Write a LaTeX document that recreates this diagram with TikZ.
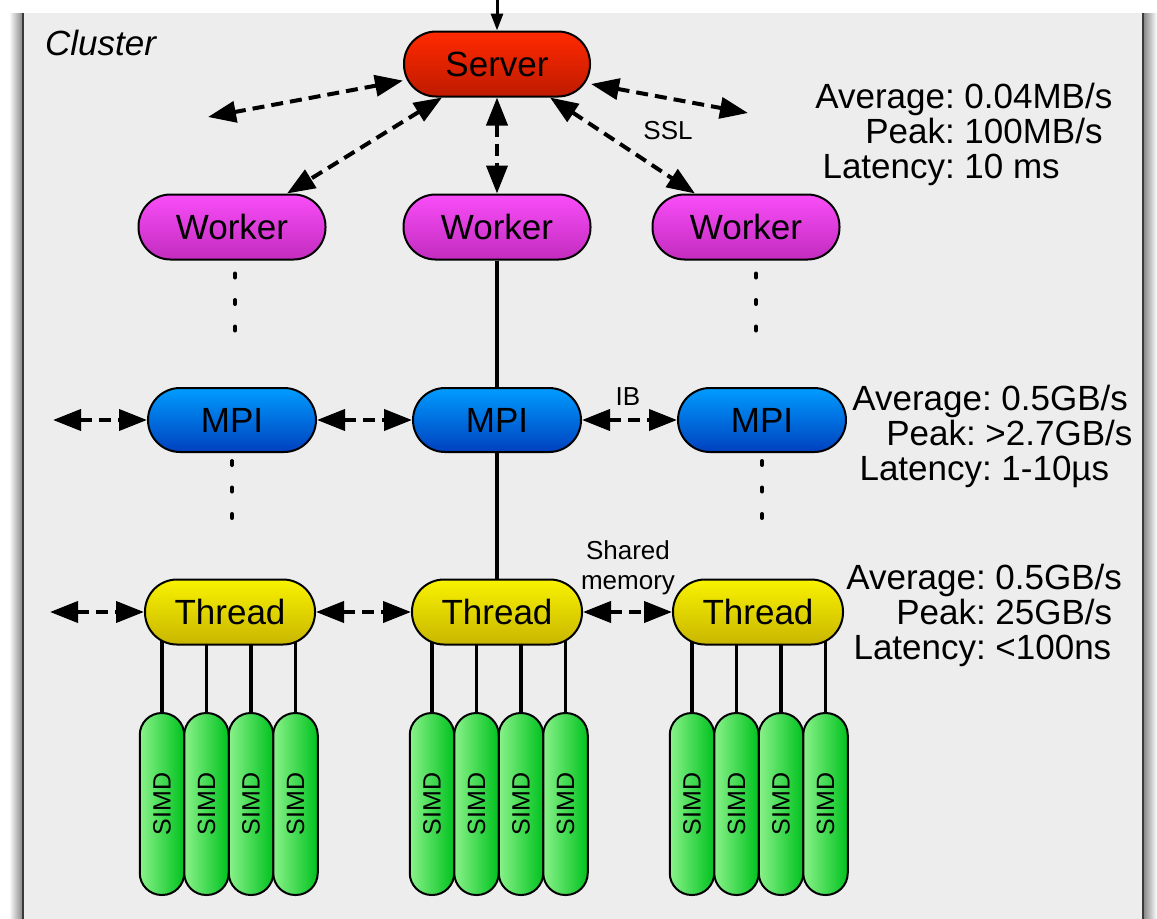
\documentclass[tikz,border=0pt]{standalone}
\usepackage{fontspec}
\setmainfont{Liberation Sans}
\usepackage{graphicx}
\usetikzlibrary{arrows.meta,positioning}
\definecolor{clusterfill}{HTML}{EDEDED}
\definecolor{clusteredge}{HTML}{3A3A3A}
\definecolor{servertop}{HTML}{FF2A00}
\definecolor{serverbottom}{HTML}{BE1A00}
\definecolor{workertop}{HTML}{F94DF9}
\definecolor{workerbottom}{HTML}{C22CBE}
\definecolor{mpitop}{HTML}{009CFF}
\definecolor{mpibottom}{HTML}{0040BE}
\definecolor{threadtop}{HTML}{F9F200}
\definecolor{threadbottom}{HTML}{C8B600}
\definecolor{simdleft}{HTML}{8AF28A}
\definecolor{simdright}{HTML}{00C21E}
\pgfdeclarelayer{backdrop}
\pgfdeclarelayer{wires}
\pgfsetlayers{backdrop,wires,main}
\tikzset{
  clusterpicture/.style={x=0.5pt, y=-0.5pt},
  unitbox/.style={draw, line width=1pt, inner sep=0pt, minimum height=32.5pt, rounded corners=16pt, font=\fontsize{17.5}{20}\selectfont},
  serverbox/.style={unitbox, minimum width=93pt, top color=servertop, bottom color=serverbottom},
  workerbox/.style={unitbox, minimum width=93.5pt, top color=workertop, bottom color=workerbottom},
  mpibox/.style={unitbox, minimum width=84pt, minimum height=32pt, top color=mpitop, bottom color=mpibottom},
  threadbox/.style={unitbox, minimum width=85pt, top color=threadtop, bottom color=threadbottom},
  simdbox/.style={draw, line width=1pt, inner sep=0pt, minimum width=22.25pt, minimum height=91pt, rounded corners=11pt, left color=simdleft, right color=simdright, font=\fontsize{12.5}{15}\selectfont},
  linkarrow/.style={{Triangle[length=14pt,width=10.5pt]}-{Triangle[length=14pt,width=10.5pt]}, line width=2pt, dash pattern=on 6pt off 3.5pt},
  wireline/.style={line width=1.8pt},
  dotline/.style={line width=2pt, line cap=round, dash pattern=on 2pt off 11.25pt},
  statsnode/.style={inner sep=0pt, font=\fontsize{17.5}{17.5}\selectfont},
  linklabel/.style={inner sep=0pt, align=center, font=\fontsize{13}{15}\selectfont}
}

\begin{document}
\begin{tikzpicture}[clusterpicture]
\useasboundingbox (0,0) rectangle (1157,918);
\begin{pgfonlayer}{backdrop}
\fill[clusterfill] (23,13) rectangle (1143,930);
\shade[left color=white, right color=black!45] (9,13) rectangle (22,930);
\shade[left color=black!45, right color=white] (1144,13) rectangle (1157,930);
\draw[clusteredge, line width=1.2pt] (23,13) -- (23,930) (1143,13) -- (1143,930);
\end{pgfonlayer}
\node[font=\fontsize{17.5}{20}\selectfont\itshape, anchor=base west] (title) at (38,55) {Cluster};

% nodes
\node[serverbox] (server) at (497,64) {Server};
\node[workerbox] (wleft) at (232,227) {Worker};
\node[workerbox] (wmid) at (497,227) {Worker};
\node[workerbox] (wright) at (746,227) {Worker};
\node[mpibox] (mleft) at (232,420) {MPI};
\node[mpibox] (mmid) at (497,420) {MPI};
\node[mpibox] (mright) at (762,420) {MPI};
\node[threadbox] (tleft) at (230,612) {Thread};
\node[threadbox] (tmid) at (497,612) {Thread};
\node[threadbox] (tright) at (758,612) {Thread};

% simd lanes under each thread
\foreach \grp/\tnode/\x in {l/tleft/162, m/tmid/432, r/tright/692} {
  \node[simdbox] (s\grp1) at (\x,804) {\rotatebox{90}{SIMD}};
  \foreach \i [count=\j from 2] in {1,2,3}
    \node[simdbox, right=-1pt of s\grp\i] (s\grp\j) {\rotatebox{90}{SIMD}};
  \begin{pgfonlayer}{wires}
  \foreach \i in {1,...,4}
    \draw[wireline] (s\grp\i.north) -- (s\grp\i.north |- \tnode.center);
  \end{pgfonlayer}
}

% free ends
\coordinate (toplink) at (497,0);
\coordinate (srvleftend) at (208,117);
\coordinate (srvrightend) at (748,113);
\coordinate (mpiend) at (53,420);
\coordinate (threadend) at (50,612);

\draw[-{Triangle[length=8.5pt,width=6pt]}, line width=1.5pt] (toplink) -- (server.north);
\draw[linkarrow] (server.190) -- (srvleftend);
\draw[linkarrow] ([xshift=-27.5pt]server.south) -- ([xshift=27.5pt]wleft.north);
\draw[linkarrow] (server) -- (wmid);
\draw[linkarrow] ([xshift=26.5pt]server.south) -- ([xshift=-25.5pt]wright.north);
\draw[linkarrow] (server.-12) -- (srvrightend);
\node[linklabel] (ssl) at (668,131) {SSL};

\draw[wireline] (wmid) -- (mmid);
\draw[wireline] (mmid) -- (tmid);
\draw[dotline] ([yshift=-6.5pt,xshift=1.5pt]wleft.south) -- ++(0,58);
\draw[dotline] ([yshift=-6.5pt,xshift=5pt]wright.south) -- ++(0,58);
\draw[dotline] ([yshift=-4pt]mleft.south) -- ++(0,58);
\draw[dotline] ([yshift=-4pt]mright.south) -- ++(0,58);

\draw[linkarrow] (mpiend) -- (mleft);
\draw[linkarrow] (mleft) -- (mmid);
\draw[linkarrow] (mmid) -- (mright);
\node[linklabel] (ib) at (628,397) {IB};

\draw[linkarrow] (threadend) -- (tleft);
\draw[linkarrow] (tleft) -- (tmid);
\draw[linkarrow] (tmid) -- (tright);
\node[linklabel] (shm) at (628,568) {Shared\\memory};

% bandwidth figures
\node[statsnode, anchor=west] (statsworker) at (815,136) {\begin{tabular}{@{}r@{\hspace{4.8pt}}l@{}}Average: & 0.04MB/s\\ Peak: & 100MB/s\\ Latency: & 10 ms\end{tabular}};
\node[statsnode, anchor=west] (statsmpi) at (852,438) {\begin{tabular}{@{}r@{\hspace{4.8pt}}l@{}}Average: & 0.5GB/s\\ Peak:\hspace{8pt} & \hspace{-8pt}>2.7GB/s\\ Latency: & 1-10µs\end{tabular}};
\node[statsnode, anchor=west] (statsthread) at (846,617) {\begin{tabular}{@{}r@{\hspace{4.8pt}}l@{}}Average: & 0.5GB/s\\ Peak: & 25GB/s\\ Latency: & <100ns\end{tabular}};
\end{tikzpicture}
\end{document}
